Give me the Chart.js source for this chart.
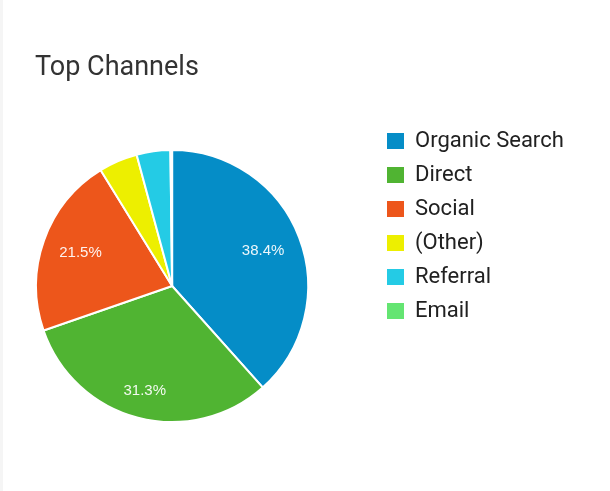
<!DOCTYPE html>
<html>
<head>
<meta charset="utf-8">
<script src="https://cdn.jsdelivr.net/npm/chart.js@4.4.0/dist/chart.umd.min.js"></script>
<style>
  html, body { margin: 0; padding: 0; background: #fff; }
  #edge { position: absolute; left: 0; top: 0; width: 3px; height: 491px; background: #f5f5f5; }
  canvas { display: block; }
</style>
</head>
<body>
<canvas id="channels" width="610" height="491"></canvas>
<div id="edge"></div>
<script>
// --- DATA ---
const channels = ['Organic Search', 'Direct', 'Social', '(Other)', 'Referral', 'Email'];
const shares = [38.4, 31.3, 21.5, 4.6, 4.0, 0.2];
const channelColors = ['#058DC7', '#50B432', '#ED561B', '#EDEF00', '#24CBE5', '#64E572'];

// percentage text inside the big slices, pushed out so the text box
// sits a fixed distance inside the rim
const sliceLabels = {
    id: 'sliceLabels',
    afterDatasetsDraw(chart) {
        const ctx = chart.ctx;
        const meta = chart.getDatasetMeta(0);
        ctx.save();
        ctx.font = '15px "Liberation Sans", Arial, sans-serif';
        ctx.fillStyle = 'rgba(255,255,255,0.93)';
        ctx.textAlign = 'center';
        ctx.textBaseline = 'middle';
        meta.data.forEach((arc, i) => {
            if (shares[i] < 10) return;
            const p = arc.getProps(['x', 'y', 'startAngle', 'endAngle', 'outerRadius']);
            const text = shares[i].toFixed(1) + '%';
            const w = ctx.measureText(text).width;
            const mid = (p.startAngle + p.endAngle) / 2;
            const extent = Math.abs(Math.cos(mid)) * w / 2 + Math.abs(Math.sin(mid)) * 5;
            const r = p.outerRadius * 0.875 - extent;
            ctx.fillText(text, p.x + Math.cos(mid) * r, p.y + Math.sin(mid) * r);
        });
        ctx.restore();
    }
};

// move the legend block further right / down than the layout puts it
const legendPlace = {
    id: 'legendPlace',
    afterLayout(chart) {
        const lg = chart.legend;
        lg.left = 375;
        lg.right = lg.left + lg.width;
        lg.top = 118;
        lg.bottom = 490;
    }
};

new Chart(document.getElementById('channels'), {
    type: 'pie',
    data: {
        labels: channels,
        datasets: [{
            data: shares,
            backgroundColor: channelColors,
            borderColor: '#fff',
            borderWidth: 2,
            hoverOffset: 0
        }]
    },
    options: {
        responsive: false,
        animation: false,
        layout: { padding: { left: 35, right: 102, top: 0, bottom: 68 } },
        plugins: {
            title: {
                display: true,
                text: 'Top Channels',
                align: 'start',
                color: '#333',
                font: { family: 'Roboto', size: 27, weight: 'normal' },
                padding: { top: 52, bottom: 64.6 }
            },
            legend: {
                position: 'right',
                align: 'start',
                labels: {
                    color: '#212121',
                    font: { family: 'Roboto', size: 22 },
                    boxWidth: 17,
                    boxHeight: 16,
                    padding: 12,
                    generateLabels: (chart) =>
                        Chart.overrides.pie.plugins.legend.labels.generateLabels(chart)
                            .map(l => ({ ...l, lineWidth: 0 }))
                }
            },
            tooltip: { enabled: false }
        }
    },
    plugins: [sliceLabels, legendPlace]
});
</script>
</body>
</html>
